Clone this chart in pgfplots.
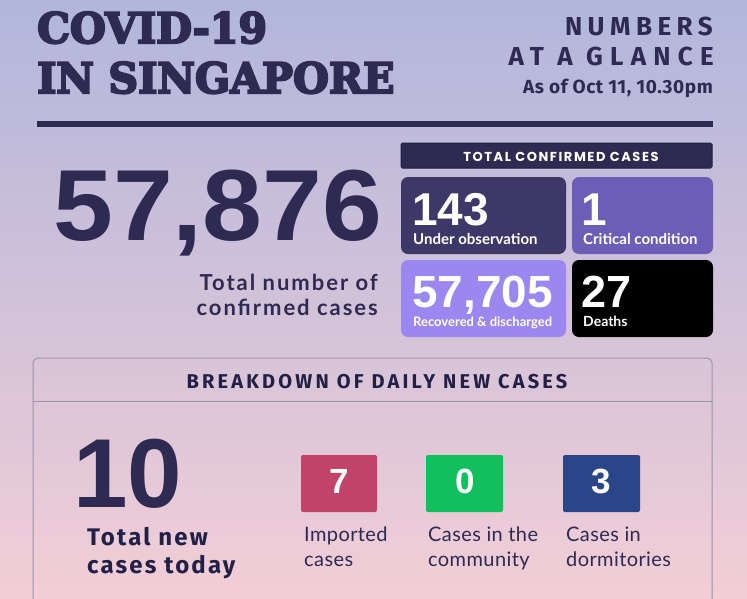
\documentclass[border=0pt]{standalone}
\usepackage{pgfplots}
\pgfplotsset{compat=1.18}
\usepackage{fontspec}
\setmainfont{Lato}
\newfontfamily\slab{DejaVu Serif}[UprightFont=* Bold, UprightFeatures={FakeBold=5}]
\newfontfamily\fira{Fira Sans}
\newfontfamily\lato{Lato}
\newfontfamily\pop{Poppins}
\newfontfamily\lib{Liberation Sans}
\newcommand\fs[1]{\fontsize{#1}{#1}\selectfont}
\definecolor{bgtop}{HTML}{B1B6DC}
\definecolor{bgmid}{HTML}{D6C6DC}
\definecolor{bgbot}{HTML}{F2CED6}
\definecolor{ink}{HTML}{2E2A52}
\definecolor{navy}{HTML}{222047}
\definecolor{banner}{HTML}{2E2A52}
\definecolor{boxA}{HTML}{3D3868}
\definecolor{boxB}{HTML}{6C5EB6}
\definecolor{boxC}{HTML}{9A87EF}
\definecolor{boxD}{HTML}{000000}
\definecolor{tred}{HTML}{C2436A}
\definecolor{tgreen}{HTML}{12BF5C}
\definecolor{tblue}{HTML}{2A4689}
\definecolor{panel}{HTML}{9C92AA}
\begin{document}
\begin{tikzpicture}
\begin{axis}[at={(0,0)}, anchor=south west, scale only axis,
  width=747pt, height=598pt, xmin=0, xmax=747, ymin=0, ymax=598,
  y dir=reverse, hide axis, clip=true]
% background
\shade[top color=bgtop, middle color=bgmid, bottom color=bgbot] (axis cs:0,0) rectangle (axis cs:747,598);
% header
\node[anchor=base west, inner sep=0, text=ink, font=\slab\fs{42}] at (axis cs:37,43) {\scalebox{0.98}[1]{COVID-19}};
\node[anchor=base west, inner sep=0, text=ink, font=\slab\fs{42}] at (axis cs:37,93) {\scalebox{0.98}[1]{IN SINGAPORE}};
\node[anchor=base east, inner sep=0, text=ink, font=\fira\bfseries\fs{26}\addfontfeature{LetterSpace=21}] at (axis cs:713,35) {NUMBERS};
\node[anchor=base east, inner sep=0, text=ink, font=\fira\bfseries\fs{26}\addfontfeature{LetterSpace=28}] at (axis cs:714,65) {AT A GLANCE};
\node[anchor=base east, inner sep=0, text=ink, font=\fira\bfseries\fs{19}\addfontfeature{LetterSpace=3}] at (axis cs:713,93) {As of Oct 11, 10.30pm};
\fill[ink] (axis cs:37,121) rectangle (axis cs:713,127);
% total
\node[anchor=base west, inner sep=0, text=ink, font=\lib\bfseries\fs{101}] at (axis cs:53,240) {\scalebox{1.065}[1]{57,876}};
\node[anchor=base east, inner sep=0, text=ink, font=\lato\bfseries\fs{22}\addfontfeature{LetterSpace=9}] at (axis cs:378,290) {Total number of};
\node[anchor=base east, inner sep=0, text=ink, font=\lato\bfseries\fs{22}\addfontfeature{LetterSpace=9}] at (axis cs:378,315) {confirmed cases};
% banner
\draw[fill=banner, draw=navy, line width=1pt, rounded corners=1.5pt] (axis cs:401,143) rectangle (axis cs:712,168);
\node[anchor=base, inner sep=0, text=white, font=\pop\bfseries\fs{13}\addfontfeature{LetterSpace=12}] at (axis cs:561,161) {TOTAL CONFIRMED CASES};
% boxes
\fill[boxA, rounded corners=7pt] (axis cs:401,177) rectangle (axis cs:566,254);
\fill[boxB, rounded corners=7pt] (axis cs:572,177) rectangle (axis cs:713,254);
\fill[boxC, rounded corners=7pt] (axis cs:401,260) rectangle (axis cs:566,337);
\fill[boxD, rounded corners=7pt] (axis cs:572,260) rectangle (axis cs:713,337);
\node[anchor=base west, inner sep=0, text=white, font=\lib\bfseries\fs{46}] at (axis cs:412,225) {143};
\node[anchor=base west, inner sep=0, text=white, font=\lato\bfseries\fs{15}] at (axis cs:413,244) {Under observation};
\node[anchor=base west, inner sep=0, text=white, font=\lib\bfseries\fs{46}] at (axis cs:581,225) {1};
\node[anchor=base west, inner sep=0, text=white, font=\lato\bfseries\fs{15}] at (axis cs:583,244) {Critical condition};
\node[anchor=base west, inner sep=0, text=white, font=\lib\bfseries\fs{45}] at (axis cs:412,307) {\scalebox{1.02}[1]{57,705}};
\node[anchor=base west, inner sep=0, text=white, font=\lato\bfseries\fs{13}] at (axis cs:413,326) {Recovered \& discharged};
\node[anchor=base west, inner sep=0, text=white, font=\lib\bfseries\fs{45}] at (axis cs:581,307) {27};
\node[anchor=base west, inner sep=0, text=white, font=\lato\bfseries\fs{14}] at (axis cs:583,326) {Deaths};
% lower panel
\draw[panel, line width=1pt, rounded corners=5pt] (axis cs:33,620) -- (axis cs:33,358) -- (axis cs:712,358) -- (axis cs:712,620);
\draw[panel, line width=1pt] (axis cs:33,401) -- (axis cs:712,401);
\node[anchor=base, inner sep=0, text=navy, font=\fira\bfseries\fs{20}\addfontfeature{LetterSpace=16}] at (axis cs:377,388) {BREAKDOWN OF DAILY NEW CASES};
\node[anchor=base west, inner sep=0, text=ink, font=\lib\bfseries\fs{98}] at (axis cs:73,507) {10};
\node[anchor=base west, inner sep=0, text=navy, font=\fira\bfseries\fs{24}\addfontfeature{LetterSpace=9}] at (axis cs:87,545) {Total new};
\node[anchor=base west, inner sep=0, text=navy, font=\fira\bfseries\fs{24}\addfontfeature{LetterSpace=9}] at (axis cs:87,573) {cases today};
\fill[tred, rounded corners=2pt] (axis cs:301,455) rectangle (axis cs:377,512);
\fill[tgreen, rounded corners=2pt] (axis cs:426,455) rectangle (axis cs:503,512);
\fill[tblue, rounded corners=2pt] (axis cs:563,455) rectangle (axis cs:640,512);
\node[anchor=base, inner sep=0, text=white, font=\lib\bfseries\fs{35}] at (axis cs:339,493) {7};
\node[anchor=base, inner sep=0, text=white, font=\lib\bfseries\fs{35}] at (axis cs:465,493) {0};
\node[anchor=base, inner sep=0, text=white, font=\lib\bfseries\fs{35}] at (axis cs:601,493) {3};
\node[anchor=base west, inner sep=0, text=ink, font=\lato\fs{20}\addfontfeature{LetterSpace=2}] at (axis cs:304,541) {Imported};
\node[anchor=base west, inner sep=0, text=ink, font=\lato\fs{20}\addfontfeature{LetterSpace=2}] at (axis cs:304,566) {cases};
\node[anchor=base west, inner sep=0, text=ink, font=\lato\fs{20}\addfontfeature{LetterSpace=2}] at (axis cs:428,541) {Cases in the};
\node[anchor=base west, inner sep=0, text=ink, font=\lato\fs{20}\addfontfeature{LetterSpace=2}] at (axis cs:428,566) {community};
\node[anchor=base west, inner sep=0, text=ink, font=\lato\fs{20}\addfontfeature{LetterSpace=2}] at (axis cs:566,541) {Cases in};
\node[anchor=base west, inner sep=0, text=ink, font=\lato\fs{20}\addfontfeature{LetterSpace=2}] at (axis cs:566,566) {dormitories};
\end{axis}
\end{tikzpicture}
\end{document}
